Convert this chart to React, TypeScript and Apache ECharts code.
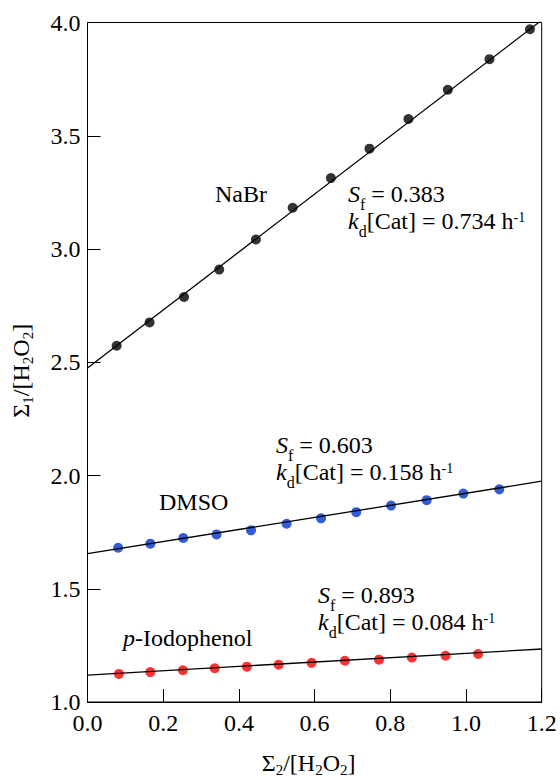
import React, { useEffect, useRef } from "react";
import * as echarts from "echarts";

// axis ranges / ticks
const xMin = 0;
const xMax = 1.2;
const xStep = 0.2;
const yMin = 1.0;
const yMax = 4.0;
const yStep = 0.5;

// NaBr (black)
const nabrX = [0.077, 0.164, 0.255, 0.348, 0.445, 0.542, 0.643, 0.745, 0.848, 0.952, 1.062, 1.169];
const nabrY = [2.573, 2.676, 2.788, 2.909, 3.042, 3.182, 3.313, 3.443, 3.574, 3.703, 3.838, 3.970];
// DMSO (blue)
const dmsoX = [0.081, 0.166, 0.253, 0.341, 0.432, 0.526, 0.617, 0.710, 0.802, 0.896, 0.993, 1.088];
const dmsoY = [1.681, 1.699, 1.724, 1.740, 1.758, 1.787, 1.811, 1.838, 1.867, 1.891, 1.920, 1.939];
// p-Iodophenol (red)
const iodoX = [0.083, 0.166, 0.252, 0.336, 0.421, 0.505, 0.592, 0.680, 0.770, 0.857, 0.946, 1.032];
const iodoY = [1.124, 1.132, 1.140, 1.149, 1.156, 1.165, 1.173, 1.182, 1.187, 1.196, 1.204, 1.212];

// fitted lines (end points)
const fitX = [0, 1.2];
const nabrFitY = [2.475, 4.01];
const dmsoFitY = [1.655, 1.975];
const iodoFitY = [1.119, 1.234];

const FONT = "Liberation Serif";
const FS = 24;
const LH = 27.5;

const zip = (xs: number[], ys: number[]) => xs.map((x, i) => [x, ys[i]]);

const rich = {
  i: { fontFamily: FONT, fontSize: FS, fontStyle: "italic", lineHeight: LH, color: "#000" },
  n: { fontFamily: FONT, fontSize: FS, lineHeight: LH, color: "#000" },
  sub: { fontFamily: FONT, fontSize: 16, lineHeight: 6, verticalAlign: "top", padding: [16, 0, 0, 0], color: "#000" },
  s2: { fontFamily: FONT, fontSize: 15, lineHeight: 6, verticalAlign: "top", padding: [13, 0, 0, 0], color: "#000" },
  sup: { fontFamily: FONT, fontSize: 14, lineHeight: 6, verticalAlign: "top", padding: [3, 0, 0, 0], color: "#000" },
};

const annot = (x: number, y: number, text: string) => ({
  type: "text",
  left: x,
  top: y,
  style: {
    text,
    fontFamily: FONT,
    fontSize: FS,
    lineHeight: LH,
    fill: "#000",
    rich,
  },
});

const sfk = (sf: string, kd: string) =>
  `{i|S}{sub|f}{n| = ${sf}}\n{i|k}{sub|d}{n|[Cat] = ${kd} h}{sup|-1}`;

export default function App() {
  const ref = useRef<HTMLDivElement>(null);
  useEffect(() => {
    if (!ref.current) return;
    const chart = echarts.init(ref.current, undefined, { renderer: "svg" });
    const axisLabel = { color: "#000", fontFamily: FONT, fontSize: FS };
    chart.setOption({
      animation: false,
      backgroundColor: "#fff",
      grid: {
        left: 87.5,
        right: 18.3,
        top: 22.5,
        bottom: 74,
        outerBoundsMode: "none",
        containLabel: false,
        show: true,
        borderColor: "#000",
        borderWidth: 1,
        backgroundColor: "transparent",
      },
      xAxis: {
        type: "value",
        min: xMin,
        max: xMax,
        interval: xStep,
        axisLine: { show: true, lineStyle: { color: "#000", width: 1 } },
        axisTick: { show: true, inside: true, length: 13, lineStyle: { color: "#000" } },
        splitLine: { show: false },
        axisLabel: { ...axisLabel, margin: 9, formatter: (v: number) => v.toFixed(1), showMinLabel: true, showMaxLabel: true },
        name: "{n|Σ}{s2|2}{n|/[H}{s2|2}{n|O}{s2|2}{n|]}",
        nameLocation: "middle",
        nameGap: 47,
        nameTextStyle: { rich, padding: [0, 12, 0, 0] },
      },
      yAxis: {
        type: "value",
        min: yMin,
        max: yMax,
        interval: yStep,
        axisLine: { show: true, lineStyle: { color: "#000", width: 1 } },
        axisTick: { show: true, inside: true, length: 13, lineStyle: { color: "#000" } },
        splitLine: { show: false },
        axisLabel: { ...axisLabel, margin: 7, formatter: (v: number) => v.toFixed(1), showMinLabel: true, showMaxLabel: true },
        name: "{n|Σ}{s2|1}{n|/[H}{s2|2}{n|O}{s2|2}{n|]}",
        nameLocation: "middle",
        nameRotate: 90,
        nameGap: 53,
        nameTextStyle: { rich, padding: [0, 17, 0, 0] },
      },
      series: [
        { type: "line", data: zip(fitX, nabrFitY), symbol: "none", lineStyle: { color: "#000", width: 1.3 }, clip: true, silent: true },
        { type: "line", data: zip(fitX, dmsoFitY), symbol: "none", lineStyle: { color: "#000", width: 1.3 }, clip: true, silent: true },
        { type: "line", data: zip(fitX, iodoFitY), symbol: "none", lineStyle: { color: "#000", width: 1.3 }, clip: true, silent: true },
        { type: "scatter", data: zip(nabrX, nabrY), symbol: "circle", symbolSize: 10, itemStyle: { color: "#000" } },
        { type: "scatter", data: zip(dmsoX, dmsoY), symbol: "circle", symbolSize: 10, itemStyle: { color: "#0033cc" } },
        { type: "scatter", data: zip(iodoX, iodoY), symbol: "circle", symbolSize: 10, itemStyle: { color: "#ff0000" } },
      ],
      graphic: [
        annot(215, 180, "{n|NaBr}"),
        annot(348, 180, sfk("0.383", "0.734")),
        annot(159, 488, "{n|DMSO}"),
        annot(276, 431, sfk("0.603", "0.158")),
        annot(123, 624, "{i|p}{n|-Iodophenol}"),
        annot(318, 581, sfk("0.893", "0.084")),
      ],
    });
    return () => chart.dispose();
  }, []);
  return <div ref={ref} style={{ position: "fixed", left: 0, top: 0, width: 560, height: 776 }} />;
}
